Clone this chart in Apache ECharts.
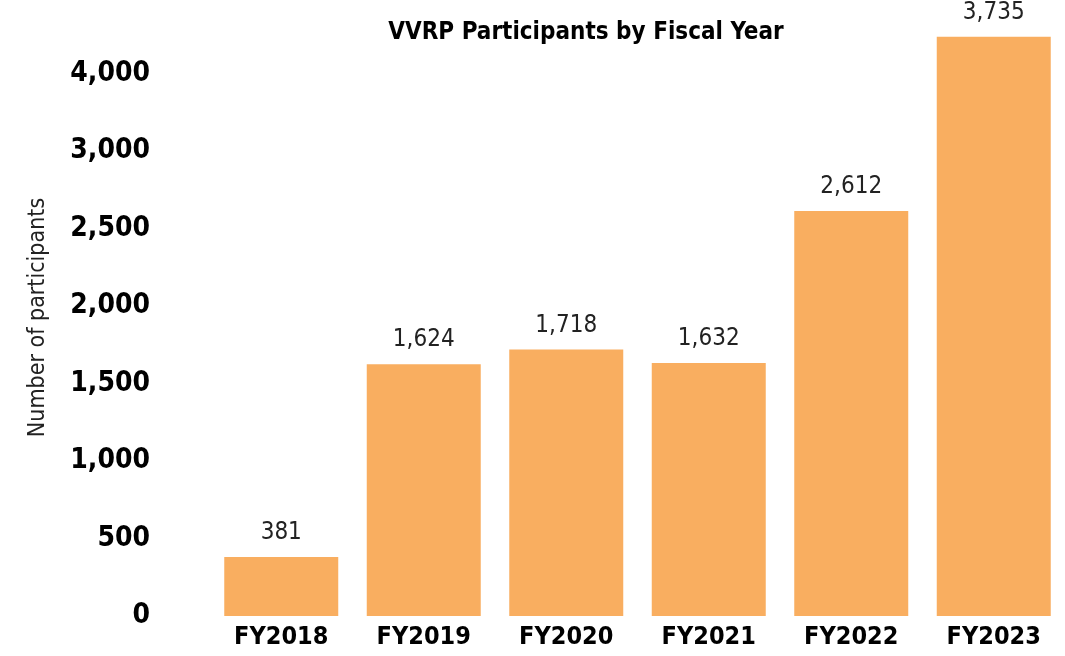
<!DOCTYPE html>
<html>
<head>
<meta charset="utf-8">
<script src="https://cdn.jsdelivr.net/npm/echarts@6/dist/echarts.min.js"></script>
<style>
  html, body { margin: 0; padding: 0; background: #fff; }
  #chart { width: 1065px; height: 656px; }
</style>
</head>
<body>
<div id="chart"></div>
<script>
// data
const years = ['FY2018', 'FY2019', 'FY2020', 'FY2021', 'FY2022', 'FY2023']
const participants = [381, 1624, 1718, 1632, 2612, 3735]
// tick labels as printed (top one reads 4,000 in the original)
const tickLabels = ['0', '500', '1,000', '1,500', '2,000', '2,500', '3,000', '4,000']

const narrow = "'Liberation Sans Narrow', 'DejaVu Sans Condensed', sans-serif"

const myChart = echarts.init(document.getElementById('chart'))
const option = {
  backgroundColor: '#fff',
  animation: false,
  title: {
    text: 'VVRP Participants by Fiscal Year',
    left: 581,
    top: 16,
    textAlign: 'center',
    textStyle: { fontFamily: narrow, fontSize: 24, fontWeight: 'bold', color: '#000' }
  },
  grid: { left: 210, right: -15, top: 19, bottom: 40 },
  xAxis: {
    type: 'category',
    data: years,
    axisLine: { show: false },
    axisTick: { show: false },
    axisLabel: {
      interval: 0,
      margin: 9,
      fontFamily: narrow, fontSize: 25, fontWeight: 'bold', color: '#000'
    }
  },
  yAxis: {
    type: 'value',
    min: 0,
    max: 3850,
    interval: 500,
    name: 'Number of participants',
    nameLocation: 'middle',
    nameGap: 160,
    nameRotate: 90,
    nameTextStyle: { fontFamily: narrow, fontSize: 23, color: '#222' },
    axisLine: { show: false },
    axisTick: { show: false },
    splitLine: { show: false },
    axisLabel: {
      margin: 60,
      showMaxLabel: false,
      fontFamily: narrow, fontSize: 28, fontWeight: 'bold', color: '#000',
      formatter: v => tickLabels[Math.round(v / 500)] || ''
    }
  },
  series: [
    {
      type: 'bar',
      data: participants,
      barCategoryGap: '20%',
      itemStyle: { color: '#F9AE60' },
      label: {
        show: true,
        position: 'top',
        distance: 12,
        fontFamily: narrow, fontSize: 24, color: '#222',
        formatter: p => p.value.toLocaleString('en-US')
      }
    }
  ]
}
myChart.setOption(option)
</script>
</body>
</html>
